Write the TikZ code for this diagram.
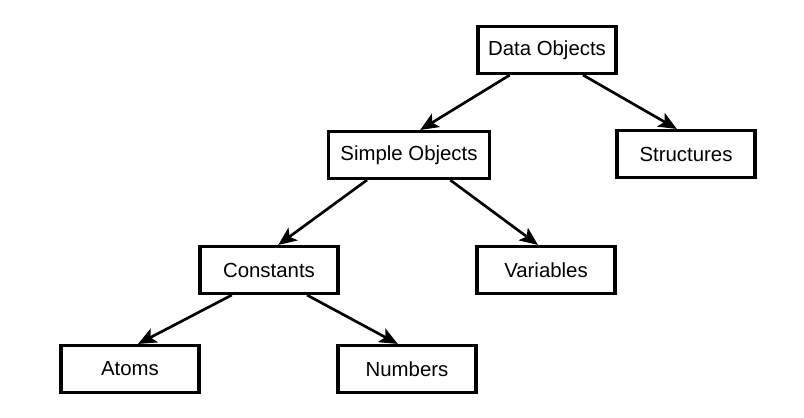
\documentclass[tikz,border=0pt]{standalone}
\usepackage{fontspec}
\setmainfont{Liberation Sans}
\usepackage{tikz}
\usetikzlibrary{arrows.meta}

\begin{document}
\begin{tikzpicture}[
    x=0.025cm, y=-0.025cm,
    objbox/.style={rectangle, draw=black, fill=white, line width=2.2pt,
                   minimum width=3.45cm, minimum height=1.175cm,
                   align=center, font=\fontsize{14.5}{17}\selectfont},
    widebox/.style={objbox, minimum width=4.03cm},
    arr/.style={-{Stealth[length=13pt, width=11pt, inset=3pt]}, line width=1.9pt, black}
  ]
    \useasboundingbox (0,0) rectangle (804,418);

    \node[objbox] (data) at (547,50) {Data Objects};

    \node[widebox] (simple) at (409,155) {Simple Objects};
    \node[objbox] (struct) at (686,154) {Structures};

    \node[objbox] (const) at (269,270) {Constants};
    \node[objbox] (vars) at (546,270) {Variables};

    \node[objbox] (atoms) at (130,369) {Atoms};
    \node[objbox] (nums) at (407,369) {Numbers};

    \draw[arr] ([xshift=-0.93cm]data.south) -- ([xshift=0.28cm]simple.north);
    \draw[arr] ([xshift=0.9cm]data.south) -- ([xshift=-0.23cm]struct.north);
    \draw[arr] ([xshift=-1.05cm]simple.south) -- ([xshift=0.23cm]const.north);
    \draw[arr] ([xshift=1.03cm]simple.south) -- ([xshift=-0.2cm]vars.north);
    \draw[arr] ([xshift=-0.93cm]const.south) -- ([xshift=0.2cm]atoms.north);
    \draw[arr] ([xshift=0.95cm]const.south) -- ([xshift=-0.23cm]nums.north);
  \end{tikzpicture}
\end{document}
